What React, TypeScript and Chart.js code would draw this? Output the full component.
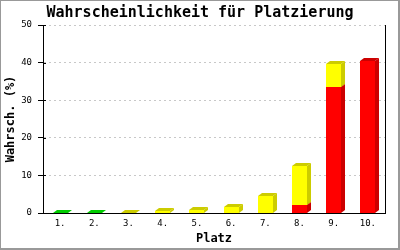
import React, { useEffect, useRef } from "react";
import { Chart, registerables } from "chart.js";

Chart.register(...registerables);

const categories = ["1.", "2.", "3.", "4.", "5.", "6.", "7.", "8.", "9.", "10."];
const greenValues = [0.1, 0.1, 0, 0, 0, 0, 0, 0, 0, 0];
const redValues = [0, 0, 0, 0, 0, 0, 0, 2.1, 33.6, 40.5];
const yellowValues = [0, 0, 0.1, 0.5, 0.9, 1.7, 4.4, 10.3, 5.9, 0];
const yTicks = [0, 10, 20, 30, 40, 50];

const FRONT = ["#00ff00", "#ff0000", "#ffff00"];
const DARK = ["#00cc00", "#cc0000", "#cccc00"];
const DX = 4;
const DY = 3;
const MONO = "'DejaVu Sans Mono', 'Liberation Mono', monospace";

const bars3d = {
  id: "bars3d",
  afterDatasetsDraw(chart: any) {
    const ctx = chart.ctx;
    ctx.save();
    chart.data.datasets.forEach((ds: any, di: number) => {
      const meta = chart.getDatasetMeta(di);
      meta.data.forEach((el: any, i: number) => {
        const v = ds.data[i];
        if (!v) return;
        const p = el.getProps(["x", "y", "base", "width"], true);
        const x0 = Math.round(p.x - p.width / 2);
        const x1 = x0 + Math.round(p.width);
        const yt = Math.round(p.y);
        const yb = Math.round(p.base);
        ctx.fillStyle = FRONT[di];
        ctx.fillRect(x0, yt, x1 - x0, yb - yt);
        ctx.fillStyle = DARK[di];
        // side
        ctx.beginPath();
        ctx.moveTo(x1, yt);
        ctx.lineTo(x1 + DX, yt - DY);
        ctx.lineTo(x1 + DX, yb - DY);
        ctx.lineTo(x1, yb);
        ctx.closePath();
        ctx.fill();
        // top
        ctx.beginPath();
        ctx.moveTo(x0, yt);
        ctx.lineTo(x1, yt);
        ctx.lineTo(x1 + DX, yt - DY);
        ctx.lineTo(x0 + DX, yt - DY);
        ctx.closePath();
        ctx.fill();
      });
    });
    ctx.restore();
  },
  afterDraw(chart: any) {
    const ctx = chart.ctx;
    const ys = chart.scales.y;
    const a = chart.chartArea;
    ctx.save();
    ctx.strokeStyle = "#000";
    ctx.lineWidth = 1;
    ys.ticks.forEach((t: any) => {
      const py = Math.round(ys.getPixelForValue(t.value)) + 0.5;
      ctx.beginPath();
      ctx.moveTo(a.left, py);
      ctx.lineTo(a.left + 3, py);
      ctx.stroke();
    });
    ctx.fillStyle = "#999";
    const w = chart.width;
    const h = chart.height;
    ctx.fillRect(0, 0, w, 1);
    ctx.fillRect(0, 0, 1, h);
    ctx.fillRect(w - 2, 0, 2, h);
    ctx.fillRect(0, h - 2, w, 2);
    ctx.restore();
  },
};

export default function App() {
  const ref = useRef<HTMLCanvasElement>(null);
  useEffect(() => {
    if (!ref.current) return;
    Chart.defaults.font.family = MONO;
    const clear = "rgba(0,0,0,0)";
    const chart = new Chart(ref.current, {
      type: "bar",
      data: {
        labels: categories,
        datasets: [
          { label: "g", data: greenValues, backgroundColor: clear },
          { label: "r", data: redValues, backgroundColor: clear },
          { label: "y", data: yellowValues, backgroundColor: clear },
        ],
      },
      options: {
        responsive: false,
        animation: false,
        devicePixelRatio: 1,
        layout: { padding: 0 },
        datasets: { bar: { categoryPercentage: 1, barPercentage: 0.44 } } as any,
        plugins: {
          legend: { display: false },
          tooltip: { enabled: false },
          title: {
            display: true,
            text: "Wahrscheinlichkeit für Platzierung",
            color: "#000",
            font: { family: MONO, size: 15, weight: "bold" },
            padding: { top: 4, bottom: 3 },
          },
        },
        scales: {
          x: {
            stacked: true,
            grid: { display: false, drawTicks: false },
            border: { display: true, color: "#000", width: 1 },
            ticks: { color: "#000", font: { family: MONO, size: 9 }, padding: 5, maxRotation: 0, autoSkip: false },
            title: {
              display: true,
              text: "Platz",
              color: "#000",
              font: { family: MONO, size: 12, weight: "bold" },
              padding: { top: 0, bottom: 4 },
            },
            afterFit: (s: any) => {
              s.height = 37;
            },
          },
          y: {
            stacked: true,
            min: 0,
            max: 50,
            afterBuildTicks: (s: any) => {
              s.ticks = yTicks.map((v) => ({ value: v }));
            },
            grid: { color: "#c8c8c8", tickColor: "#000", tickLength: 5, lineWidth: 1 },
            border: { display: true, color: "#000", width: 1, dash: [2, 3] },
            ticks: { color: "#000", font: { family: MONO, size: 9 }, padding: 6 },
            title: {
              display: true,
              text: "Wahrsch. (%)",
              color: "#000",
              font: { family: MONO, size: 12, weight: "bold" },
              padding: { top: 4, bottom: 0 },
            },
            afterFit: (s: any) => {
              s.width = 43;
            },
          },
          y2: {
            position: "right",
            display: true,
            min: 0,
            max: 50,
            grid: { display: false, drawTicks: false },
            border: { display: true, color: "#000", width: 1 },
            ticks: { display: false },
            afterFit: (s: any) => {
              s.width = 15;
            },
          },
        },
      },
      plugins: [bars3d],
    });
    return () => chart.destroy();
  }, []);
  return (
    <div style={{ position: "fixed", left: 0, top: 0, width: 400, height: 250, background: "#fff" }}>
      <canvas ref={ref} width={400} height={250} />
    </div>
  );
}
